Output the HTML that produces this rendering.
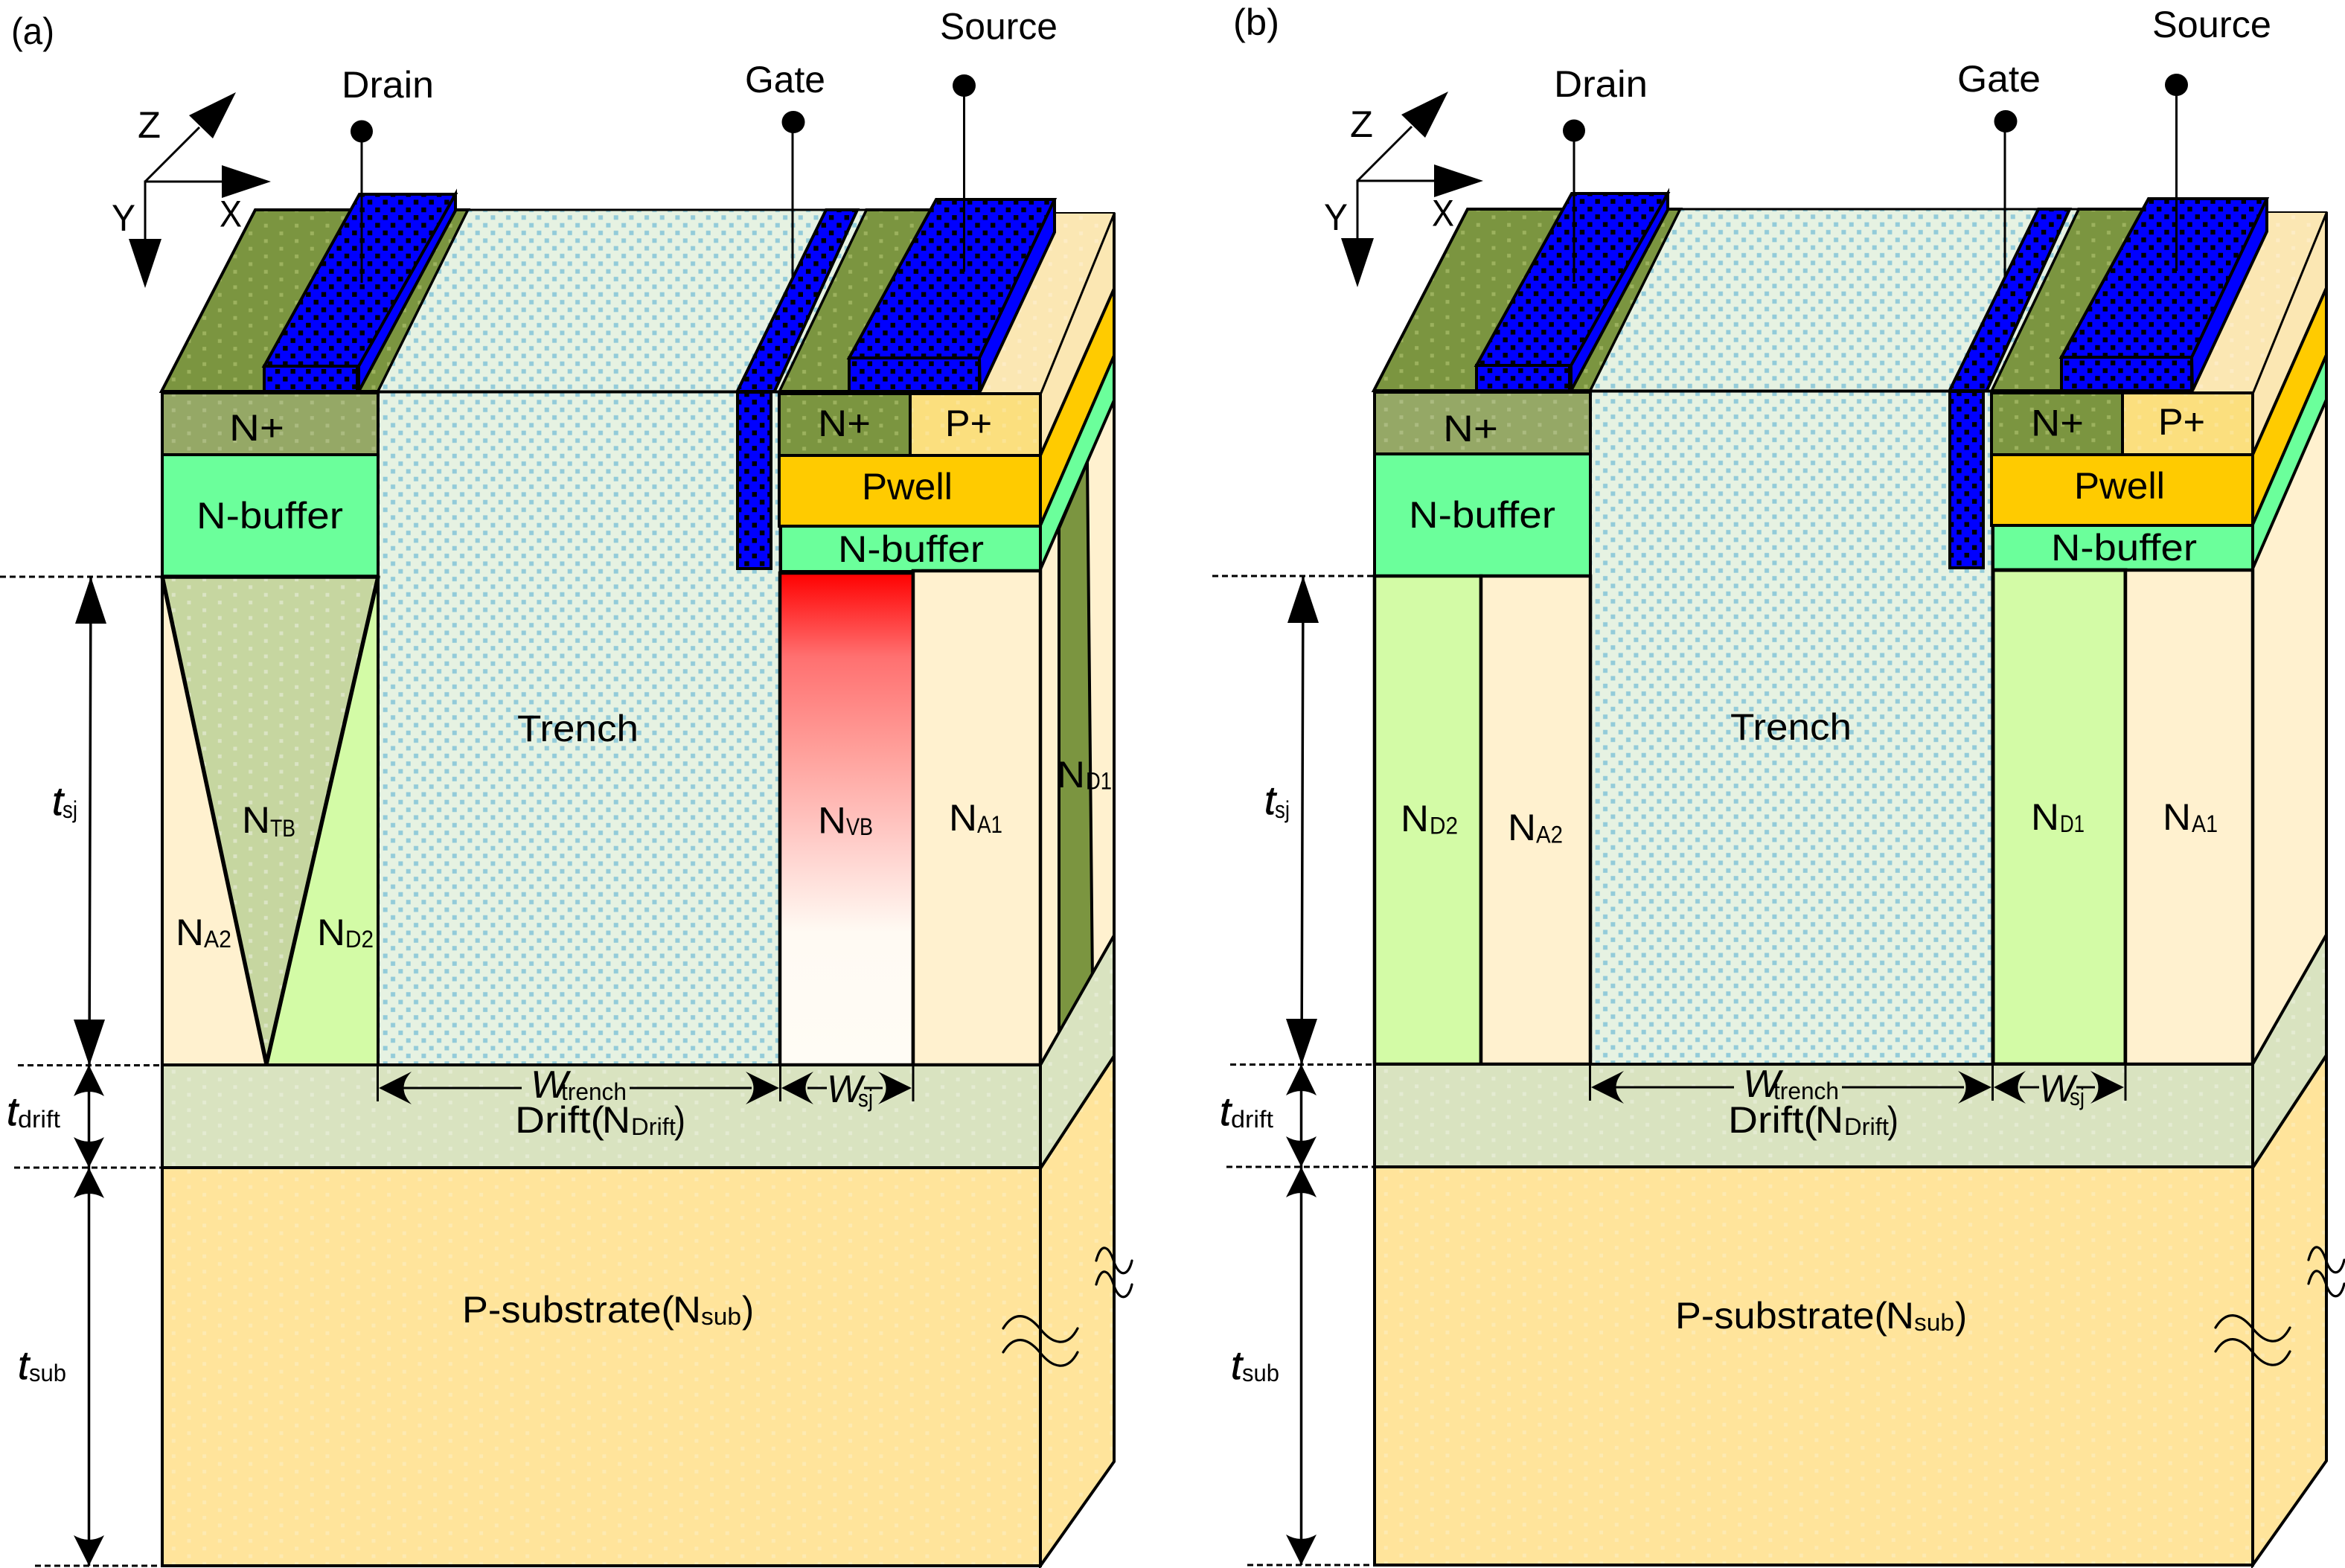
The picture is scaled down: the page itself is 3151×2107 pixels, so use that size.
<!DOCTYPE html>
<html><head><meta charset="utf-8"><style>
html,body{margin:0;padding:0;background:#fff}
svg{display:block}
text{font-family:"Liberation Sans",sans-serif;fill:#000}
.m{font-size:50px}
.s{font-size:32px}
.i{font-style:italic;font-size:54px;stroke:#000;stroke-width:.7px}
.w{font-style:italic;font-size:52px}
</style></head><body>
<svg xmlns="http://www.w3.org/2000/svg" width="3151" height="2107" viewBox="0 0 3151 2107">
<defs>
<pattern id="pb" patternUnits="userSpaceOnUse" x="398.83" y="400.83" width="20.67" height="20.67"><rect width="20.67" height="20.67" fill="#0000ff"/><rect x="2" y="2" width="6.400" height="6.400" fill="#000"/><rect x="12.300" y="12.300" width="6.400" height="6.400" fill="#000"/></pattern>
<pattern id="pt" patternUnits="userSpaceOnUse" x="398.83" y="400.83" width="20.67" height="20.67"><rect width="20.67" height="20.67" fill="#e6f2e2"/><rect x="2.200" y="2.200" width="6" height="6" fill="#93cbd9"/><rect x="12.500" y="12.500" width="6" height="6" fill="#93cbd9"/></pattern>
<pattern id="pol" patternUnits="userSpaceOnUse" x="228.2" y="794.2" width="41.33" height="20.67"><rect width="41.33" height="20.67" fill="#7b9540"/><rect x="2.6" y="2.6" width="5" height="5" fill="#9cb25e"/><rect x="23.27" y="12.93" width="5" height="5" fill="#9cb25e"/></pattern>
<pattern id="pnp" patternUnits="userSpaceOnUse" x="228.2" y="794.2" width="41.33" height="20.67"><rect width="41.33" height="20.67" fill="#95a866"/><rect x="2.6" y="2.6" width="5" height="5" fill="#abbb80"/><rect x="23.27" y="12.93" width="5" height="5" fill="#abbb80"/></pattern>
<pattern id="pntb" patternUnits="userSpaceOnUse" x="228.2" y="794.2" width="41.33" height="20.67"><rect width="41.33" height="20.67" fill="#c6d6a0"/><rect x="2.6" y="2.6" width="5" height="5" fill="#dbe4c4"/><rect x="23.27" y="12.93" width="5" height="5" fill="#dbe4c4"/></pattern>
<pattern id="pdr" patternUnits="userSpaceOnUse" x="228.2" y="794.2" width="41.33" height="20.67"><rect width="41.33" height="20.67" fill="#d9e3c0"/><rect x="2.6" y="2.6" width="5" height="5" fill="#e4ebd2"/><rect x="23.27" y="12.93" width="5" height="5" fill="#e4ebd2"/></pattern>
<pattern id="psu" patternUnits="userSpaceOnUse" x="228.2" y="794.2" width="41.33" height="20.67"><rect width="41.33" height="20.67" fill="#ffe49b"/><rect x="2.6" y="2.6" width="5" height="5" fill="#fdeab2"/><rect x="23.27" y="12.93" width="5" height="5" fill="#fdeab2"/></pattern>
<pattern id="ppp" patternUnits="userSpaceOnUse" x="228.2" y="794.2" width="41.33" height="20.67"><rect width="41.33" height="20.67" fill="#fbdf7e"/><rect x="2.6" y="2.6" width="5" height="5" fill="#fbe494"/><rect x="23.27" y="12.93" width="5" height="5" fill="#fbe494"/></pattern>
<pattern id="pcr" patternUnits="userSpaceOnUse" x="228.2" y="794.2" width="41.33" height="20.67"><rect width="41.33" height="20.67" fill="#fbe7b3"/><rect x="2.6" y="2.6" width="5" height="5" fill="#fdecc5"/><rect x="23.27" y="12.93" width="5" height="5" fill="#fdecc5"/></pattern>
<linearGradient id="red" gradientUnits="userSpaceOnUse" x1="0" y1="770" x2="0" y2="1431">
<stop offset="0" stop-color="#ff0000"/><stop offset=".17" stop-color="#ff7070"/><stop offset=".36" stop-color="#ff9f9a"/><stop offset=".56" stop-color="#ffd0cc"/><stop offset=".73" stop-color="#fffaf3"/><stop offset="1" stop-color="#fffcf5"/>
</linearGradient>

<g id="c1" stroke="#000" stroke-width="4" stroke-linejoin="miter">
<!-- axes -->
<g fill="#000">
<path d="M195 321V244H298M195 244L268 171" fill="none" stroke-width="3"/>
<polygon points="298,222 364,244 298,266" stroke="none"/>
<polygon points="173,321 217,321 195,387" stroke="none"/>
<polygon points="317,124 254,155 286,186" stroke="none"/>
</g>
<!-- right side base -->
<polygon points="1398,529 1497,286 1497,1431 1398,1431" fill="#fff1cf"/>
<polygon points="1398,529 1497,286 1497,388 1398,612" fill="#fbe7b3"/>
<polygon points="1398,612 1497,388 1497,478 1398,706" fill="#ffcb00"/>
<polygon points="1398,706 1497,478 1497,538 1398,765" fill="#6bff9b"/>
<!-- top faces -->
<polygon points="217,526 343,282 629,282 508,526" fill="url(#pol)"/>
<polygon points="1240,286 1497,286 1398,529 1200,529" fill="url(#pcr)" stroke-width="2"/>
<polygon points="1047,526 1164,282 1262,282 1141,526" fill="url(#pol)"/>
<polygon points="508,526 629,282 1164,282 1047,526" fill="url(#pt)" stroke-width="3"/>
<!-- trench front -->
<rect x="508" y="527" width="540" height="905" fill="url(#pt)" stroke-width="3"/>
<!-- drain front stack -->
<rect x="218" y="528" width="290" height="83" fill="url(#pnp)"/>
<rect x="218" y="611" width="290" height="164" fill="#6bff9b"/>
<!-- gate -->
<path d="M1065 164V373" fill="none" stroke-width="3"/>
<polygon points="990.6,526 1110,282 1152,282 1040.6,526" fill="url(#pb)"/>
<rect x="991" y="527" width="45" height="237" fill="url(#pb)"/>
<!-- source stack -->
<rect x="1047" y="529" width="176" height="83" fill="url(#pol)"/>
<rect x="1223" y="529" width="175" height="83" fill="url(#ppp)"/>
<rect x="1047" y="612" width="351" height="95" fill="#ffcb00"/>
<rect x="1049" y="707" width="349" height="61" fill="#6bff9b"/>
<!-- drain metal -->
<polygon points="612,261 612,283 482,526 482,492" fill="#0000ff"/>
<polygon points="355,492 483,261 612,261 482,492" fill="url(#pb)"/>
<rect x="355" y="492" width="125" height="34" fill="url(#pb)"/>
<!-- source metal -->
<polygon points="1417,268 1417,312 1317,526 1316,481" fill="#0000ff"/>
<polygon points="1141,481 1258,268 1417,268 1316,481" fill="url(#pb)"/>
<rect x="1141" y="481" width="175" height="45" fill="url(#pb)"/>
<!-- terminals -->
<g stroke-width="3" fill="#000">
<path d="M486 176V380" fill="none"/><circle cx="486" cy="176.500" r="15" stroke="none"/>
<ellipse cx="1066" cy="164" rx="15.500" ry="15" stroke="none"/>
<path d="M1295.500 115V365" fill="none"/><ellipse cx="1295.500" cy="115" rx="15.500" ry="15" stroke="none"/>
</g>
</g>

<g id="c2" stroke="#000" stroke-width="4">
<polygon points="1398,1570 1497,1419 1497,1964 1398,2104" fill="url(#psu)"/>
<polygon points="1398,1431 1497,1257 1497,1419 1398,1570" fill="url(#pdr)"/>
<rect x="218" y="1431" width="1180" height="138" fill="url(#pdr)"/>
<rect x="218" y="1569" width="1180" height="535" fill="url(#psu)"/>
<!-- dashed guides -->
<g fill="none" stroke-width="3" stroke-dasharray="8 5">
<path d="M0 775H217M24 1431.500H217M19 1569H217M47 2104H217"/>
</g>
<!-- vertical dims -->
<path d="M122 775L120 1431M119.500 1431V2104" fill="none" stroke-width="3.500"/>
<g fill="#000" stroke="none">
<polygon points="122,775 143,838 101,838"/>
<polygon points="120,1432 99,1370 141,1370"/>
<path d="M119.500 1431L140 1473Q119.500 1461 99 1473Z"/>
<path d="M119.500 1569L99 1528Q119.500 1540 140 1528Z"/>
<path d="M119.500 1569L140 1610Q119.500 1598 99 1610Z"/>
<path d="M119.500 2104L99 2063Q119.500 2075 140 2063Z"/>
<!-- horizontal heads -->
<path d="M509 1462L553 1440Q532 1462 553 1484Z"/>
<path d="M1047 1462L1002 1440Q1023 1462 1002 1484Z"/>
<path d="M1050 1462L1093 1440Q1072 1462 1093 1484Z"/>
<path d="M1225 1462L1180 1440Q1201 1462 1180 1484Z"/>
</g>
<path d="M507.500 1431V1480M1048.500 1431V1480M1227 1431V1480M540 1462H701M846 1462H1010M1085 1462H1111M1161 1462H1186" fill="none" stroke-width="3"/>
<!-- break marks -->
<g fill="none" stroke-width="3.200" stroke-linecap="round">
<path d="M1348 1785C1362 1762 1380 1764 1398 1786C1414 1806 1434 1812 1448 1785"/>
<path d="M1348 1817C1362 1794 1380 1796 1398 1818C1414 1838 1434 1844 1448 1817"/>
<path d="M1473 1694C1480 1668 1490 1674 1497 1696C1504 1716 1516 1716 1521 1694"/>
<path d="M1473 1726C1480 1700 1490 1706 1497 1728C1504 1748 1516 1748 1521 1726"/>
</g>
</g>
</defs>

<!-- PANEL A -->
<use href="#c1"/>
<g stroke="#000">
<polygon points="1423,1400 1423,710 1461,621 1468,1320" fill="#7b9540" stroke-width="4"/>
<rect x="218" y="775" width="290" height="656" fill="#fff1cf" stroke-width="4"/>
<polygon points="358,775 508,775 508,1431 358,1431" fill="#d3fba6" stroke="none"/>
<polygon points="218,775 508,775 358,1430" fill="url(#pntb)" stroke-width="5.500" stroke-linejoin="round"/>
<path d="M508 775V1431" stroke-width="4"/>
<rect x="1048" y="770" width="179" height="661" fill="url(#red)" stroke-width="4.500"/>
<rect x="1227" y="767" width="171" height="664" fill="#fff1cf" stroke-width="4.500"/>
</g>
<use href="#c2"/>

<text class="m" x="15" y="59" textLength="58" lengthAdjust="spacingAndGlyphs">(a)</text>
<text class="m" x="459" y="131" textLength="124" lengthAdjust="spacingAndGlyphs">Drain</text>
<text class="m" x="1001" y="124" textLength="108" lengthAdjust="spacingAndGlyphs">Gate</text>
<text class="m" x="1263" y="52.500" textLength="158" lengthAdjust="spacingAndGlyphs">Source</text>
<text class="m" x="185" y="185" textLength="31" lengthAdjust="spacingAndGlyphs">Z</text>
<text class="m" x="295" y="304.500" textLength="30" lengthAdjust="spacingAndGlyphs">X</text>
<text class="m" x="150" y="310" textLength="32" lengthAdjust="spacingAndGlyphs">Y</text>
<text class="m" x="308" y="592" textLength="74" lengthAdjust="spacingAndGlyphs">N+</text>
<text class="m" x="264" y="710" textLength="197" lengthAdjust="spacingAndGlyphs">N-buffer</text>
<text class="m" x="1099" y="586" textLength="71" lengthAdjust="spacingAndGlyphs">N+</text>
<text class="m" x="1270" y="586" textLength="63" lengthAdjust="spacingAndGlyphs">P+</text>
<text class="m" x="1158" y="671" textLength="122" lengthAdjust="spacingAndGlyphs">Pwell</text>
<text class="m" x="1126" y="755" textLength="196" lengthAdjust="spacingAndGlyphs">N-buffer</text>
<text class="m" x="695" y="996" textLength="163" lengthAdjust="spacingAndGlyphs">Trench</text>
<text class="m" x="325" y="1119" textLength="38" lengthAdjust="spacingAndGlyphs">N</text><text class="s" x="363" y="1124" textLength="34" lengthAdjust="spacingAndGlyphs">TB</text>
<text class="m" x="236" y="1270" textLength="38" lengthAdjust="spacingAndGlyphs">N</text><text class="s" x="274" y="1273" textLength="37" lengthAdjust="spacingAndGlyphs">A2</text>
<text class="m" x="426" y="1270" textLength="38" lengthAdjust="spacingAndGlyphs">N</text><text class="s" x="464" y="1273" textLength="38" lengthAdjust="spacingAndGlyphs">D2</text>
<text class="m" x="1099" y="1119.500" textLength="38" lengthAdjust="spacingAndGlyphs">N</text><text class="s" x="1137" y="1122" textLength="36" lengthAdjust="spacingAndGlyphs">VB</text>
<text class="m" x="1275" y="1116" textLength="38" lengthAdjust="spacingAndGlyphs">N</text><text class="s" x="1313" y="1119" textLength="34" lengthAdjust="spacingAndGlyphs">A1</text>
<text class="m" x="1420" y="1058" textLength="38" lengthAdjust="spacingAndGlyphs">N</text><text class="s" x="1459" y="1060.500" textLength="35" lengthAdjust="spacingAndGlyphs">D1</text>
<text class="i" x="70" y="1095">t</text><text class="s" x="84" y="1099" textLength="20" lengthAdjust="spacingAndGlyphs">sj</text>
<text class="i" x="9" y="1512">t</text><text class="s" x="24" y="1515" textLength="57" lengthAdjust="spacingAndGlyphs">drift</text>
<text class="i" x="24" y="1853">t</text><text class="s" x="39" y="1856" textLength="50" lengthAdjust="spacingAndGlyphs">sub</text>
<text class="w" x="713" y="1475" textLength="50" lengthAdjust="spacingAndGlyphs">W</text><text class="s" x="754" y="1478" textLength="88" lengthAdjust="spacingAndGlyphs">trench</text>
<text class="w" x="1111" y="1481" textLength="48" lengthAdjust="spacingAndGlyphs">W</text><text class="s" x="1153" y="1487" textLength="20" lengthAdjust="spacingAndGlyphs">sj</text>
<text class="m" x="692" y="1522" textLength="120" lengthAdjust="spacingAndGlyphs">Drift(</text><text class="m" x="809" y="1522" textLength="38" lengthAdjust="spacingAndGlyphs">N</text><text class="s" x="848" y="1525" textLength="60" lengthAdjust="spacingAndGlyphs">Drift</text><text class="m" x="906" y="1522" textLength="15" lengthAdjust="spacingAndGlyphs">)</text>
<text class="m" x="621" y="1777" textLength="285" lengthAdjust="spacingAndGlyphs">P-substrate(</text><text class="m" x="904" y="1777" textLength="38" lengthAdjust="spacingAndGlyphs">N</text><text class="s" x="942" y="1780" textLength="54" lengthAdjust="spacingAndGlyphs">sub</text><text class="m" x="997" y="1777" textLength="16" lengthAdjust="spacingAndGlyphs">)</text>

<!-- PANEL B -->
<g transform="translate(1629,-1)">
<use href="#c1"/>
<g stroke="#000" stroke-width="4.500">
<rect x="218" y="775" width="143" height="656" fill="#d3fba6"/>
<rect x="361" y="775" width="147" height="656" fill="#fff1cf"/>
<rect x="1049" y="767" width="178" height="664" fill="#d3fba6" stroke-width="5"/>
<rect x="1227" y="767" width="171" height="664" fill="#fff1cf" stroke-width="4.500"/>
</g>
<use href="#c2"/>
</g>

<text class="m" x="1657" y="47" textLength="62" lengthAdjust="spacingAndGlyphs">(b)</text>
<text class="m" x="2088" y="130" textLength="126" lengthAdjust="spacingAndGlyphs">Drain</text>
<text class="m" x="2630" y="123" textLength="112" lengthAdjust="spacingAndGlyphs">Gate</text>
<text class="m" x="2892" y="50" textLength="160" lengthAdjust="spacingAndGlyphs">Source</text>
<text class="m" x="1814" y="184" textLength="31" lengthAdjust="spacingAndGlyphs">Z</text>
<text class="m" x="1924" y="303.500" textLength="30" lengthAdjust="spacingAndGlyphs">X</text>
<text class="m" x="1779" y="309" textLength="32" lengthAdjust="spacingAndGlyphs">Y</text>
<text class="m" x="1939" y="593" textLength="74" lengthAdjust="spacingAndGlyphs">N+</text>
<text class="m" x="1893" y="709" textLength="197" lengthAdjust="spacingAndGlyphs">N-buffer</text>
<text class="m" x="2729" y="585.500" textLength="71" lengthAdjust="spacingAndGlyphs">N+</text>
<text class="m" x="2900" y="584" textLength="63" lengthAdjust="spacingAndGlyphs">P+</text>
<text class="m" x="2787" y="670" textLength="122" lengthAdjust="spacingAndGlyphs">Pwell</text>
<text class="m" x="2756" y="753" textLength="196" lengthAdjust="spacingAndGlyphs">N-buffer</text>
<text class="m" x="2325" y="994" textLength="163" lengthAdjust="spacingAndGlyphs">Trench</text>
<text class="m" x="1882" y="1117" textLength="38" lengthAdjust="spacingAndGlyphs">N</text><text class="s" x="1921" y="1120.500" textLength="38" lengthAdjust="spacingAndGlyphs">D2</text>
<text class="m" x="2026" y="1129" textLength="38" lengthAdjust="spacingAndGlyphs">N</text><text class="s" x="2064" y="1132.500" textLength="36" lengthAdjust="spacingAndGlyphs">A2</text>
<text class="m" x="2729" y="1115" textLength="38" lengthAdjust="spacingAndGlyphs">N</text><text class="s" x="2768" y="1118" textLength="33" lengthAdjust="spacingAndGlyphs">D1</text>
<text class="m" x="2906" y="1115" textLength="38" lengthAdjust="spacingAndGlyphs">N</text><text class="s" x="2945" y="1118" textLength="35" lengthAdjust="spacingAndGlyphs">A1</text>
<text class="i" x="1699" y="1094">t</text><text class="s" x="1713" y="1099" textLength="20" lengthAdjust="spacingAndGlyphs">sj</text>
<text class="i" x="1639" y="1512">t</text><text class="s" x="1654" y="1515" textLength="57" lengthAdjust="spacingAndGlyphs">drift</text>
<text class="i" x="1654" y="1853">t</text><text class="s" x="1669" y="1856" textLength="50" lengthAdjust="spacingAndGlyphs">sub</text>
<text class="w" x="2342" y="1474" textLength="50" lengthAdjust="spacingAndGlyphs">W</text><text class="s" x="2383" y="1477" textLength="88" lengthAdjust="spacingAndGlyphs">trench</text>
<text class="w" x="2740" y="1480.500" textLength="48" lengthAdjust="spacingAndGlyphs">W</text><text class="s" x="2781" y="1485" textLength="20" lengthAdjust="spacingAndGlyphs">sj</text>
<text class="m" x="2322" y="1522" textLength="120" lengthAdjust="spacingAndGlyphs">Drift(</text><text class="m" x="2439" y="1522" textLength="38" lengthAdjust="spacingAndGlyphs">N</text><text class="s" x="2478" y="1525" textLength="60" lengthAdjust="spacingAndGlyphs">Drift</text><text class="m" x="2536" y="1522" textLength="15" lengthAdjust="spacingAndGlyphs">)</text>
<text class="m" x="2251" y="1785" textLength="285" lengthAdjust="spacingAndGlyphs">P-substrate(</text><text class="m" x="2534" y="1785" textLength="38" lengthAdjust="spacingAndGlyphs">N</text><text class="s" x="2572" y="1788" textLength="54" lengthAdjust="spacingAndGlyphs">sub</text><text class="m" x="2627" y="1785" textLength="16" lengthAdjust="spacingAndGlyphs">)</text>
</svg>
</body></html>
